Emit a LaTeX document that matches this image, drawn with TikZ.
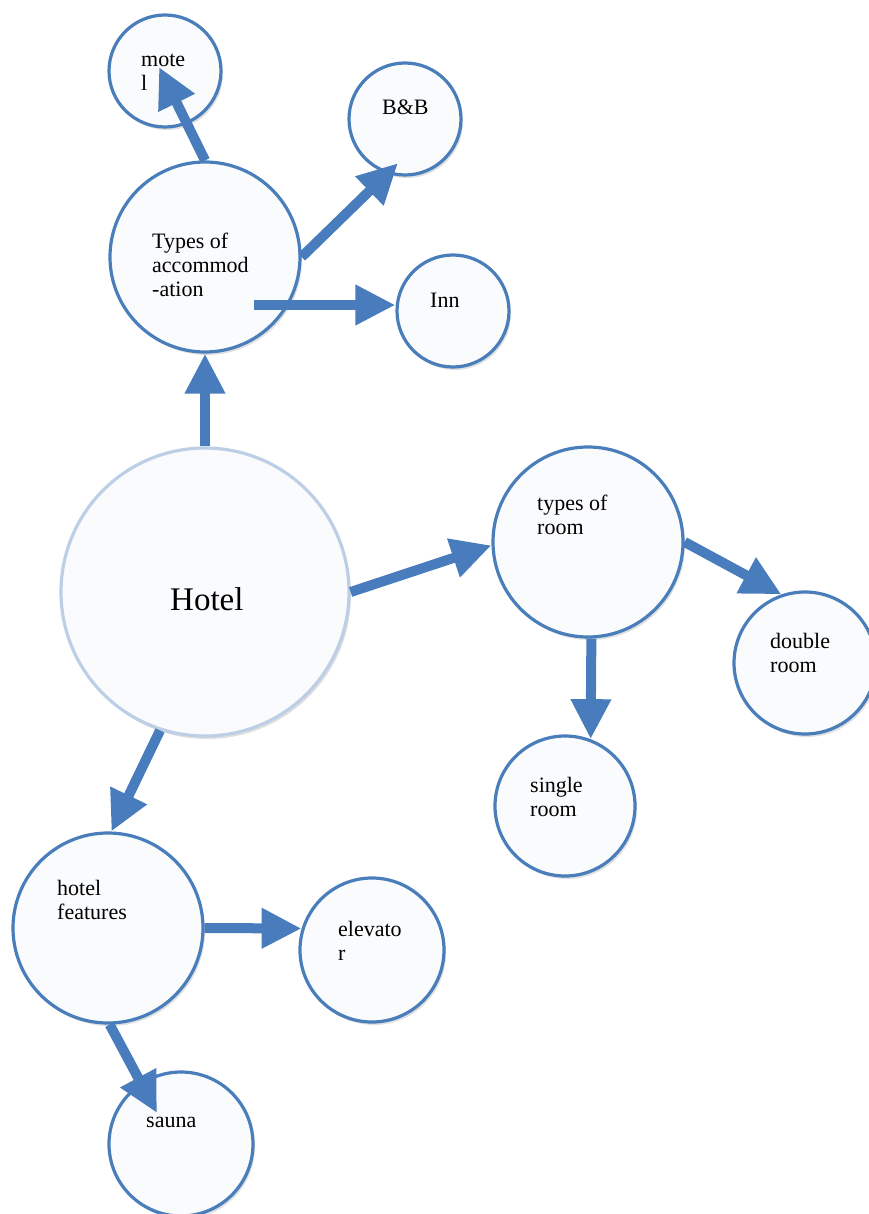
\documentclass[tikz,border=0pt]{standalone}
\usepackage{fontspec}
\setmainfont{Liberation Serif}
\usetikzlibrary{arrows.meta,shadows}
\definecolor{ringblue}{RGB}{74,126,187}
\definecolor{hotelring}{RGB}{188,207,230}
\definecolor{arrowblue}{RGB}{72,124,188}
\definecolor{bubblefill}{RGB}{250,251,253}
\begin{document}
\begin{tikzpicture}[x=1pt,y=-1pt,
    bubble/.style={circle, draw=ringblue, line width=3.2pt, fill=bubblefill,
      inner sep=0pt, drop shadow={shadow xshift=2pt, shadow yshift=-3pt,
      fill=black, opacity=0.12}},
    link/.style={draw=arrowblue, line width=10pt,
      -{Triangle[length=40pt,width=38pt]}},
    lbl/.style={font=\fontsize{22}{24}\selectfont, align=left,
      inner sep=0pt, anchor=base west}]
  \useasboundingbox (0,0) rectangle (868,1214);
  % bubbles
  \node[bubble, minimum size=112pt] (motel) at (165,71) {};
  \node[bubble, minimum size=112pt] (bnb) at (405,119) {};
  \node[bubble, minimum size=190pt] (accom) at (205,257) {};
  \node[bubble, minimum size=112pt] (inn) at (453,311) {};
  \node[bubble, draw=hotelring, minimum size=288pt] (hotel) at (205,592) {};
  \node[bubble, minimum size=190pt] (room) at (588,542) {};
  \node[bubble, minimum size=142pt] (double) at (805,663) {};
  \node[bubble, minimum size=140pt] (single) at (565,806) {};
  \node[bubble, minimum size=190pt] (feat) at (108,928) {};
  \node[bubble, minimum size=144pt] (elev) at (372,950) {};
  \node[bubble, minimum size=144pt] (sauna) at (181,1144) {};
  % texts (base = last line)
  \node[lbl] (motel-t) at ([shift={(-24pt,-20pt)}]motel.center) {mote\\l};
  \node[lbl] (bnb-t) at ([shift={(-23pt,4pt)}]bnb.center) {B\&B};
  \node[lbl] (accom-t) at ([shift={(-53pt,-40pt)}]accom.center)
    {Types of\\accommod\\-ation};
  \node[lbl] (inn-t) at ([shift={(-23pt,4pt)}]inn.center) {Inn};
  \node[lbl, font=\fontsize{33}{36}\selectfont] (hotel-t)
    at ([shift={(-35pt,-18pt)}]hotel.center) {Hotel};
  \node[lbl] (room-t) at ([shift={(-51pt,8pt)}]room.center) {types of\\room};
  \node[lbl] (double-t) at ([shift={(-35pt,-9pt)}]double.center)
    {double\\room};
  \node[lbl] (single-t) at ([shift={(-35pt,-10pt)}]single.center)
    {single\\room};
  \node[lbl] (feat-t) at ([shift={(-51pt,9pt)}]feat.center)
    {hotel\\features};
  \node[lbl] (elev-t) at ([shift={(-34pt,-10pt)}]elev.center) {elevato\\r};
  \node[lbl] (sauna-t) at ([shift={(-35pt,17pt)}]sauna.center) {sauna};
  % arrows
  \draw[link] (hotel.north) -- (accom.south);
  \draw[link] (accom.north) -- ([shift={(-6pt,4pt)}]motel.center);
  \draw[link] (accom.east) -- ([yshift=13pt]bnb.-97);
  \draw[link] ([shift={(49pt,-48pt)}]accom.center) -- ([yshift=6pt]inn.west);
  \draw[link] (hotel.east) -- (room.182);
  \draw[link] (room.east) -- (double.109);
  \draw[link] (room.-88) -- (single.69);
  \draw[link] (hotel.-108) -- (feat.88);
  \draw[link] (feat.east) -- (elev.163);
  \draw[link] (feat.-89) -- ([shift={(-24pt,31pt)}]sauna.center);
\end{tikzpicture}
\end{document}
